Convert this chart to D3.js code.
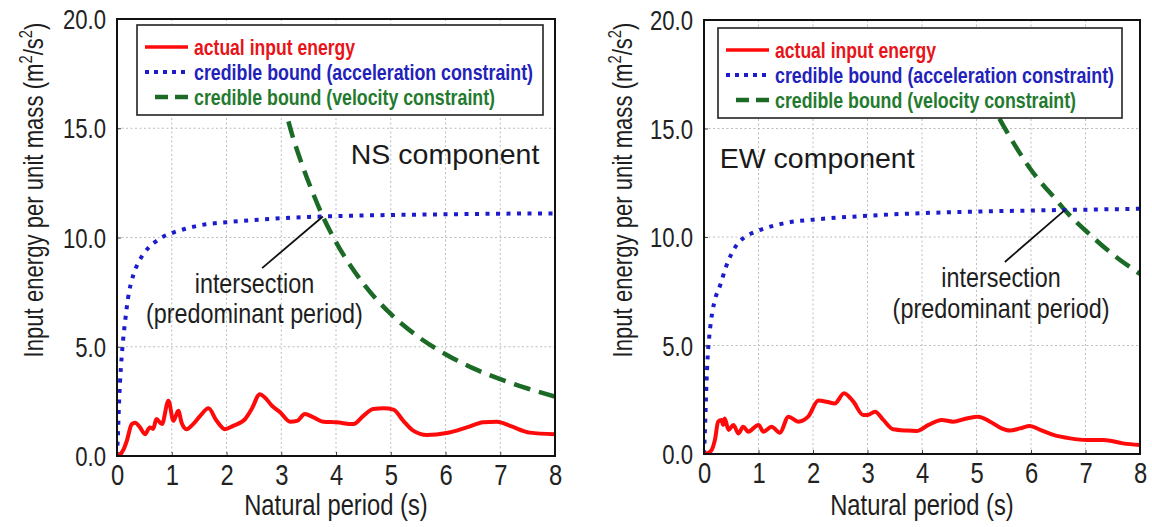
<!DOCTYPE html>
<html>
<head>
<meta charset="utf-8">
<script src="https://cdn.jsdelivr.net/npm/d3@7"></script>
<style>
  html, body { margin: 0; padding: 0; background: #fff; }
  svg { display: block; }
  text { font-family: "Liberation Sans", Arial, sans-serif; }
</style>
</head>
<body>
<svg id="chart" width="1152" height="527"></svg>
<script>
// Axis ticks
const periodTicks = [0, 1, 2, 3, 4, 5, 6, 7, 8];
const energyTicks = [0, 5, 10, 15, 20];
const energyTickLabels = ["0.0", "5.0", "10.0", "15.0", "20.0"];

// Legend entries
const legendLabels = [
  "actual input energy",
  "credible bound (acceleration constraint)",
  "credible bound (velocity constraint)"
];

// NS component: actual input energy (period s, energy m2/s2)
const nsActualT = [0, 0.05, 0.12, 0.18, 0.27, 0.33, 0.42, 0.51, 0.6, 0.66, 0.72, 0.82, 0.94, 1.03, 1.12, 1.18, 1.27, 1.39, 1.52, 1.67, 1.82, 1.97, 2.12, 2.34, 2.46, 2.61, 2.7, 2.83, 2.98, 3.16, 3.29, 3.43, 3.59, 3.77, 4.01, 4.32, 4.5, 4.68, 4.87, 5.05, 5.23, 5.41, 5.66, 6.02, 6.39, 6.69, 6.94, 7.18, 7.54, 8.0];
const nsActualE = [0, 0.05, 0.3, 0.7, 1.46, 1.52, 1.31, 1.0, 1.31, 1.24, 1.69, 1.46, 2.53, 1.61, 2.07, 1.52, 1.23, 1.46, 1.84, 2.18, 1.61, 1.23, 1.38, 1.69, 2.15, 2.83, 2.68, 2.3, 2.0, 1.57, 1.61, 1.92, 1.77, 1.57, 1.54, 1.46, 1.84, 2.15, 2.18, 2.12, 1.61, 1.16, 0.96, 1.05, 1.31, 1.54, 1.57, 1.38, 1.07, 1.0];

// NS component: credible bound (acceleration constraint)
const nsAccT = [0, 0.02, 0.04, 0.07, 0.1, 0.15, 0.2, 0.3, 0.4, 0.5, 0.6, 0.7, 0.85, 1.0, 1.25, 1.5, 2, 2.5, 3, 3.5, 4, 5, 6, 7, 8];
const nsAccE = [0, 1.2, 2.6, 4.0, 5.0, 6.2, 7.2, 8.3, 8.9, 9.3, 9.6, 9.8, 10.05, 10.2, 10.4, 10.55, 10.7, 10.8, 10.88, 10.94, 10.98, 11.03, 11.06, 11.09, 11.1];

// NS component: credible bound (velocity constraint)
const nsVelT = [2.8, 2.9, 3.0, 3.2, 3.4, 3.6, 3.76, 4.0, 4.5, 5.0, 5.5, 6.0, 6.5, 7.0, 7.5, 8.0];
const nsVelE = [18.8, 17.6, 16.6, 14.7, 13.2, 11.9, 10.96, 9.79, 7.89, 6.5, 5.46, 4.66, 4.02, 3.52, 3.09, 2.72];

// EW component: actual input energy
const ewActualT = [0, 0.08, 0.14, 0.2, 0.26, 0.32, 0.35, 0.38, 0.45, 0.54, 0.63, 0.72, 0.81, 1.0, 1.09, 1.24, 1.39, 1.55, 1.73, 1.91, 2.1, 2.25, 2.4, 2.57, 2.74, 2.92, 3.0, 3.14, 3.29, 3.47, 3.72, 3.9, 4.12, 4.36, 4.57, 4.82, 5.03, 5.25, 5.46, 5.61, 5.8, 5.98, 6.17, 6.41, 6.72, 7.02, 7.33, 7.69, 8.0];
const ewActualE = [0, 0.05, 0.18, 0.65, 1.49, 1.57, 1.34, 1.64, 1.11, 1.34, 0.95, 1.26, 1.03, 1.34, 1.03, 1.26, 0.98, 1.72, 1.49, 1.72, 2.46, 2.41, 2.33, 2.8, 2.41, 1.8, 1.8, 1.95, 1.57, 1.14, 1.08, 1.06, 1.34, 1.57, 1.49, 1.64, 1.72, 1.49, 1.18, 1.08, 1.18, 1.29, 1.11, 0.88, 0.72, 0.65, 0.65, 0.49, 0.41];

// EW component: credible bound (acceleration constraint)
const ewAccT = [0, 0.02, 0.04, 0.07, 0.1, 0.15, 0.2, 0.3, 0.4, 0.5, 0.62, 0.75, 0.9, 1.0, 1.25, 1.5, 2, 2.5, 3, 4, 5, 6, 7, 8];
const ewAccE = [0, 1.3, 2.9, 4.6, 5.5, 6.5, 7.1, 7.8, 8.6, 9.2, 9.7, 10.0, 10.2, 10.3, 10.5, 10.65, 10.8, 10.9, 10.98, 11.1, 11.17, 11.22, 11.26, 11.3];

// EW component: credible bound (velocity constraint)
const ewVelT = [4.8, 5.0, 5.2, 5.5, 6.0, 6.5, 6.62, 7.0, 7.5, 8.0];
const ewVelE = [18.7, 17.5, 16.5, 15.1, 13.1, 11.6, 11.24, 10.3, 9.2, 8.3];

// Intersection points (predominant period)
const nsCross = [3.76, 10.96];
const ewCross = [6.62, 11.24];

const zip = (t, e) => t.map((v, i) => [v, e[i]]);

const COLORS = {
  actual: "#ff0a0a",
  acc: "#1c1ccc",
  vel: "#1b6b27",
  actualText: "#e8141a",
  accText: "#2222bb",
  velText: "#237a2e"
};

// horizontal condensing factor for the narrow type used on axes and notes
const NARROW = 0.82;

const svg = d3.select("#chart");

// text placed at (x, y), condensed horizontally about its anchor point
function narrowText(parent, x, y, size, anchor, rotate) {
  const g = parent.append("g")
    .attr("transform", `translate(${x},${y})` + (rotate ? ` rotate(${rotate})` : "") + ` scale(${NARROW},1)`);
  return g.append("text").attr("font-size", size).attr("fill", "#1e1e1e")
    .attr("text-anchor", anchor || "start");
}

const panels = [
  {
    id: "ns", x0: 117, x1: 555, yTop: 19, yBot: 456,
    actual: zip(nsActualT, nsActualE), acc: zip(nsAccT, nsAccE), vel: zip(nsVelT, nsVelE),
    title: "NS component", titlePos: [4.27, 13.36],
    cross: nsCross, leaderEnd: [2.65, 8.6], noteX: 2.51, noteY: [7.46, 6.08],
    legend: { x: 137, y: 25, w: 406, h: 90 },
    yTitleX: 33
  },
  {
    id: "ew", x0: 704, x1: 1140, yTop: 20, yBot: 454,
    actual: zip(ewActualT, ewActualE), acc: zip(ewAccT, ewAccE), vel: zip(ewVelT, ewVelE),
    title: "EW component", titlePos: [0.29, 13.2],
    cross: ewCross, leaderEnd: [5.52, 8.85], noteX: 5.45, noteY: [7.7, 6.27],
    legend: { x: 718, y: 28, w: 404, h: 90 },
    yTitleX: 622
  }
];

panels.forEach(p => {
  const x = d3.scaleLinear().domain([0, 8]).range([p.x0, p.x1]);
  const y = d3.scaleLinear().domain([0, 20]).range([p.yBot, p.yTop]);
  const g = svg.append("g").attr("class", "panel-" + p.id);
  const w = p.x1 - p.x0, h = p.yBot - p.yTop;

  // dotted grid
  const grid = g.append("g").attr("stroke", "#bdbdbd").attr("stroke-width", 1)
    .attr("stroke-dasharray", "2,2.5");
  grid.selectAll("line.vx").data(periodTicks.slice(1, -1)).join("line")
    .attr("x1", d => x(d)).attr("x2", d => x(d)).attr("y1", p.yTop).attr("y2", p.yBot);
  grid.selectAll("line.hy").data(energyTicks.slice(1, -1)).join("line")
    .attr("x1", p.x0).attr("x2", p.x1).attr("y1", d => y(d)).attr("y2", d => y(d));

  // clip to plot box
  const clipId = "clip-" + p.id;
  svg.append("clipPath").attr("id", clipId).append("rect")
    .attr("x", p.x0).attr("y", p.yTop).attr("width", w).attr("height", h);
  const plot = g.append("g").attr("clip-path", `url(#${clipId})`);

  const line = d3.line().x(d => x(d[0])).y(d => y(d[1])).curve(d3.curveMonotoneX);

  plot.append("path").datum(p.vel).attr("d", line).attr("fill", "none")
    .attr("stroke", COLORS.vel).attr("stroke-width", 4.5).attr("stroke-dasharray", "17,9");
  plot.append("path").datum(p.acc).attr("d", line).attr("fill", "none")
    .attr("stroke", COLORS.acc).attr("stroke-width", 4).attr("stroke-dasharray", "4,6.5");
  plot.append("path").datum(p.actual).attr("d", line).attr("fill", "none")
    .attr("stroke", COLORS.actual).attr("stroke-width", 4).attr("stroke-linejoin", "round");

  // axes: inward ticks, condensed labels
  const xAxis = d3.axisBottom(x).tickValues(periodTicks).tickSize(-4).tickFormat(d => d);
  const yAxis = d3.axisLeft(y).tickValues(energyTicks).tickSize(-4)
    .tickFormat((d, i) => energyTickLabels[i]);

  const gx = g.append("g").attr("transform", `translate(0,${p.yBot})`).call(xAxis);
  gx.select(".domain").remove();
  gx.attr("font-family", null).attr("font-size", null);
  gx.selectAll("text").attr("font-size", 29).attr("fill", "#222")
    .attr("y", 0).attr("dy", "0.71em")
    .attr("transform", `translate(0,8) scale(${NARROW},1)`);
  gx.selectAll("line").attr("stroke", "#444");

  const gy = g.append("g").attr("transform", `translate(${p.x0},0)`).call(yAxis);
  gy.select(".domain").remove();
  gy.attr("font-family", null).attr("font-size", null);
  gy.selectAll("text").attr("font-size", 27).attr("fill", "#222")
    .attr("x", 0).attr("dy", "0.36em")
    .attr("transform", `translate(-11,0) scale(${NARROW},1)`);
  gy.selectAll("line").attr("stroke", "#444");

  // frame
  g.append("rect").attr("x", p.x0).attr("y", p.yTop).attr("width", w).attr("height", h)
    .attr("fill", "none").attr("stroke", "#111").attr("stroke-width", 2);

  // axis titles
  narrowText(g, (p.x0 + p.x1) / 2, 515, 29, "middle").text("Natural period (s)");
  const yt = narrowText(g, p.yTitleX, 190, 27, "middle", -90);
  yt.append("tspan").attr("dy", "0.36em").text("Input energy per unit mass (m");
  yt.append("tspan").attr("font-size", 18).attr("dy", "-0.6em").text("2");
  yt.append("tspan").attr("dy", "0.42em").text("/s");
  yt.append("tspan").attr("font-size", 18).attr("dy", "-0.6em").text("2");
  yt.append("tspan").attr("dy", "0.42em").text(")");

  // component title
  g.append("text").attr("font-size", 28.5).attr("fill", "#1a1a1a")
    .attr("x", x(p.titlePos[0])).attr("y", y(p.titlePos[1])).text(p.title);

  // intersection annotation
  g.append("line")
    .attr("x1", x(p.leaderEnd[0])).attr("y1", y(p.leaderEnd[1]))
    .attr("x2", x(p.cross[0])).attr("y2", y(p.cross[1]))
    .attr("stroke", "#111").attr("stroke-width", 1.8);
  narrowText(g, x(p.noteX), y(p.noteY[0]), 28.5, "middle").text("intersection");
  narrowText(g, x(p.noteX), y(p.noteY[1]), 28.5, "middle").text("(predominant period)");

  // legend
  const L = p.legend;
  const lg = g.append("g");
  lg.append("rect").attr("x", L.x).attr("y", L.y).attr("width", L.w).attr("height", L.h)
    .attr("fill", "#fff").attr("stroke", "#222").attr("stroke-width", 1.6);
  const rowY = [L.y + 22, L.y + 47, L.y + 72];
  const sx0 = L.x + 8, sx1 = L.x + 51, tx = L.x + 57;
  const styles = [
    { c: COLORS.actual, t: COLORS.actualText, sw: 3.5, dash: null, x0: sx0 },
    { c: COLORS.acc, t: COLORS.accText, sw: 4, dash: "4,5", x0: sx0 },
    { c: COLORS.vel, t: COLORS.velText, sw: 4.5, dash: "13,7", x0: sx0 + 10 }
  ];
  const textLens = [161, 339, 301];
  legendLabels.forEach((lab, i) => {
    const s = styles[i];
    const ln = lg.append("line").attr("x1", s.x0).attr("x2", sx1)
      .attr("y1", rowY[i]).attr("y2", rowY[i])
      .attr("stroke", s.c).attr("stroke-width", s.sw);
    if (s.dash) ln.attr("stroke-dasharray", s.dash);
    lg.append("text").attr("font-size", 21.5)
      .attr("font-weight", "bold").attr("fill", s.t)
      .attr("x", tx).attr("y", rowY[i]).attr("dy", "0.36em")
      .attr("textLength", textLens[i]).attr("lengthAdjust", "spacingAndGlyphs")
      .text(lab);
  });
});
</script>
</body>
</html>
